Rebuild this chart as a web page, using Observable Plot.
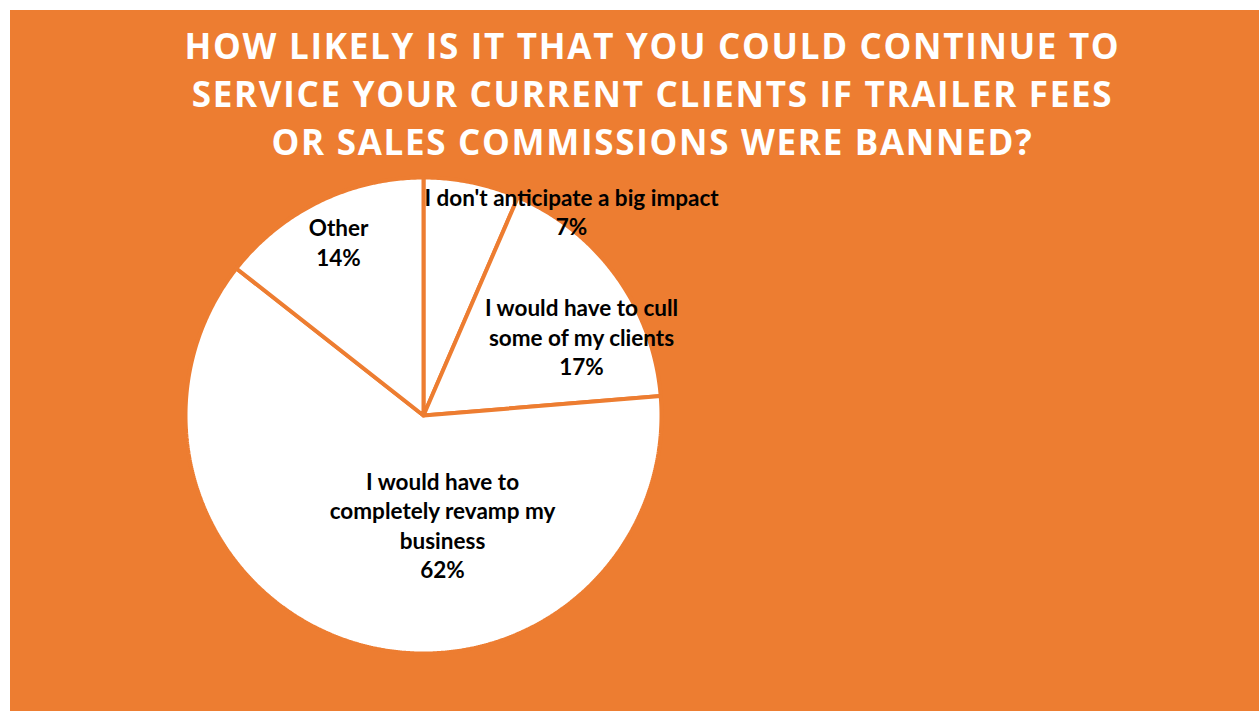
<!DOCTYPE html>
<html>
<head>
<meta charset="utf-8">
<script src="https://cdn.jsdelivr.net/npm/d3@7"></script>
<script src="https://cdn.jsdelivr.net/npm/@observablehq/plot@0.6"></script>
<style>
  html, body { margin: 0; padding: 0; background: #ffffff; width: 1259px; height: 711px; overflow: hidden; }
  #frame { position: absolute; left: 10px; top: 10px; width: 1249px; height: 701px; background: #ED7D31; }
  #title { margin: 0; padding-top: 12px; padding-left: 36px; height: 145px; text-align: center; color: #ffffff;
    font-family: "Open Sans", sans-serif; font-weight: 700; font-size: 35px; line-height: 48px; letter-spacing: 1.7px; }
  #chart svg { display: block; }
</style>
</head>
<body>
<div id="frame">
  <div id="title">HOW LIKELY IS IT THAT YOU COULD CONTINUE TO<br>SERVICE YOUR CURRENT CLIENTS IF TRAILER FEES<br>OR SALES COMMISSIONS WERE BANNED?</div>
  <div id="chart"></div>
</div>
<script>
// Data
const categories = [
  "I don't anticipate a big impact",
  "I would have to cull\nsome of my clients",
  "I would have to\ncompletely revamp my\nbusiness",
  "Other"
];
const shares = [6.5, 17.2, 61.9, 14.4];
const percentLabels = ["7%", "17%", "62%", "14%"];

// Label anchors (layout, in pie-radius units; y up)
const labelAnchors = [[0.622, 0.858], [0.664, 0.332], [0.080, -0.458], [-0.357, 0.730]];

const orange = "#ED7D31";
const rows = categories.map((c, i) => ({category: c, value: shares[i], pct: percentLabels[i]}));
const arcs = d3.pie().sort(null).value(d => d.value)(rows);

const slicePts = [];
arcs.forEach(a => {
  const name = a.data.category;
  slicePts.push({k: name, x: 0, y: 0});
  const n = Math.max(2, Math.ceil((a.endAngle - a.startAngle) / (Math.PI / 360)));
  for (let j = 0; j <= n; j++) {
    const t = a.startAngle + (a.endAngle - a.startAngle) * j / n;
    slicePts.push({k: name, x: Math.sin(t), y: Math.cos(t)});
  }
  slicePts.push({k: name, x: 0, y: 0});
});

const labels = rows.map((r, i) => ({text: r.category + "\n" + r.pct, x: labelAnchors[i][0], y: labelAnchors[i][1]}));

const W = 1249, H = 544, cx = 413, cy = 248, R = 238;
const plot = Plot.plot({
  width: W, height: H,
  margin: 0,
  style: {background: "transparent", overflow: "visible"},
  x: {domain: [-1, 1], range: [cx - R, cx + R], axis: null},
  y: {domain: [-1, 1], range: [cy + R, cy - R], axis: null},
  marks: [
    Plot.line(slicePts, {x: "x", y: "y", z: "k", fill: "#ffffff", stroke: orange, strokeWidth: 4, strokeLinejoin: "miter", curve: "linear"}),
    Plot.text(labels, {x: "x", y: "y", text: "text", fill: "#000000", fontSize: 22.5, fontWeight: 700,
      fontFamily: "Lato, sans-serif", lineHeight: 1.31, lineAnchor: "middle", textAnchor: "middle"})
  ]
});
document.getElementById("chart").appendChild(plot);
</script>
</body>
</html>
